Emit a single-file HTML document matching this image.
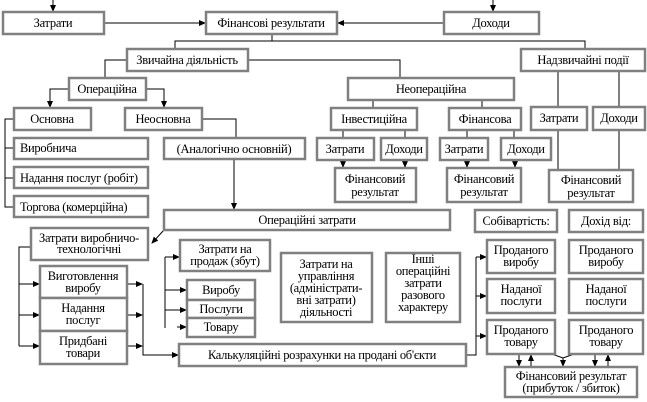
<!DOCTYPE html>
<html><head><meta charset="utf-8"><style>
html,body{margin:0;padding:0;background:#fff;}
svg{display:block;}
svg text{font-family:"Liberation Serif","Times New Roman","DejaVu Serif",serif;font-size:12.5px;fill:#000;letter-spacing:-0.3px;}
.b{fill:#fff;stroke:#808080;stroke-width:2.5;}
.l{stroke:#000;stroke-width:1;fill:none;}
</style></head><body>
<svg width="647" height="402" viewBox="0 0 647 402" xmlns="http://www.w3.org/2000/svg" font-family="Liberation Serif, Times New Roman, DejaVu Serif, serif">
<defs><marker id="a" markerWidth="7" markerHeight="6" refX="6" refY="3" orient="auto" markerUnits="userSpaceOnUse"><path d="M0,0 L7,3 L0,6 z" fill="#000"/></marker></defs>

<g class="l">
<path d="M53,0 V11" marker-end="url(#a)"/>
<path d="M493,0 V11" marker-end="url(#a)"/>
<path d="M105,23 H205" marker-end="url(#a)"/>
<path d="M443,23 H338" marker-end="url(#a)"/>
<path d="M272,35 V41 M175,49 V41 H585 V49"/>
<path d="M248,60 H400 V78"/>
<path d="M127,60 H105 V78"/>
<path d="M69,89 H50 V107" marker-end="url(#a)"/>
<path d="M146,89 H164 V107" marker-end="url(#a)"/>
<path d="M14,119 H5 V207 H14 M5,148 H14 M5,178 H14"/>
<path d="M202,119 H236 V138"/>
<path d="M234,160 V209" marker-end="url(#a)"/>
<path d="M164,230 L152,243" marker-end="url(#a)"/>
<path d="M373,100 V108 M482,100 V108"/>
<path d="M343,130 V138 M405,130 V138 M467,130 V138 M514,130 V138"/>
<path d="M343,160 V167" marker-end="url(#a)"/>
<path d="M405,160 V167" marker-end="url(#a)"/>
<path d="M467,160 V167" marker-end="url(#a)"/>
<path d="M515,160 V167" marker-end="url(#a)"/>
<path d="M558,71 V170 M619,71 V170"/>
<path d="M31,247 H19 V346"/>
<path d="M19,284 H39" marker-end="url(#a)"/>
<path d="M19,315 H39" marker-end="url(#a)"/>
<path d="M19,346 H39" marker-end="url(#a)"/>
<path d="M128,284 H142" marker-end="url(#a)"/>
<path d="M128,315 H142" marker-end="url(#a)"/>
<path d="M128,346 H142" marker-end="url(#a)"/>
<path d="M143,284 V355 H178" marker-end="url(#a)"/>
<path d="M165,257 V328"/>
<path d="M165,257 H179" marker-end="url(#a)"/>
<path d="M165,290 H186" marker-end="url(#a)"/>
<path d="M165,310 H186" marker-end="url(#a)"/>
<path d="M177,327 H186" marker-end="url(#a)"/>
<path d="M467,355 H476 V257"/>
<path d="M476,257 H486" marker-end="url(#a)"/>
<path d="M476,296 H486" marker-end="url(#a)"/>
<path d="M476,336 H486" marker-end="url(#a)"/>
<path d="M519,355 V366" marker-end="url(#a)"/>
<path d="M531,366 V355" marker-end="url(#a)"/>
<path d="M595,355 V366" marker-end="url(#a)"/>
<path d="M608,366 V355" marker-end="url(#a)"/>
<path d="M549,353 L563,358 L577,353 M563,358 V366" />
<path d="M563,360 V366" marker-end="url(#a)"/>
</g>

<g>
<rect class="b" x="3" y="12" width="101" height="22"/>
<rect class="b" x="206" y="12" width="131" height="22"/>
<rect class="b" x="444" y="12" width="95" height="22"/>
<rect class="b" x="127" y="49" width="121" height="22"/>
<rect class="b" x="521" y="49" width="124" height="22"/>
<rect class="b" x="69" y="78" width="77" height="22"/>
<rect class="b" x="348" y="78" width="166" height="22"/>
<rect class="b" x="14" y="108" width="77" height="22"/>
<rect class="b" x="125" y="108" width="77" height="22"/>
<rect class="b" x="331" y="108" width="86" height="22"/>
<rect class="b" x="449" y="108" width="72" height="22"/>
<rect class="b" x="531" y="107" width="56" height="23"/>
<rect class="b" x="593" y="107" width="52" height="23"/>
<rect class="b" x="14" y="138" width="134" height="21"/>
<rect class="b" x="164" y="138" width="141" height="21"/>
<rect class="b" x="317" y="138" width="57" height="22"/>
<rect class="b" x="381" y="138" width="46" height="22"/>
<rect class="b" x="440" y="138" width="48" height="22"/>
<rect class="b" x="501" y="138" width="50" height="22"/>
<rect class="b" x="14" y="167" width="134" height="21"/>
<rect class="b" x="335" y="168" width="81" height="34"/>
<rect class="b" x="447" y="168" width="74" height="34"/>
<rect class="b" x="549" y="170" width="84" height="32"/>
<rect class="b" x="14" y="196" width="134" height="21"/>
<rect class="b" x="164" y="210" width="286" height="20"/>
<rect class="b" x="475" y="210" width="82" height="22"/>
<rect class="b" x="569" y="210" width="74" height="22"/>
<rect class="b" x="31" y="228" width="117" height="32"/>
<rect class="b" x="180" y="240" width="90" height="31"/>
<rect class="b" x="487" y="240" width="68" height="33"/>
<rect class="b" x="569" y="240" width="74" height="33"/>
<rect class="b" x="281" y="253" width="91" height="69"/>
<rect class="b" x="386" y="253" width="74" height="69"/>
<rect class="b" x="40" y="266" width="87" height="32"/>
<rect class="b" x="187" y="280" width="68" height="20"/>
<rect class="b" x="487" y="279" width="68" height="34"/>
<rect class="b" x="569" y="279" width="74" height="34"/>
<rect class="b" x="40" y="298" width="87" height="33"/>
<rect class="b" x="187" y="300" width="68" height="18"/>
<rect class="b" x="187" y="318" width="68" height="19"/>
<rect class="b" x="487" y="320" width="68" height="34"/>
<rect class="b" x="569" y="320" width="74" height="34"/>
<rect class="b" x="40" y="331" width="87" height="33"/>
<rect class="b" x="179" y="344" width="287" height="22"/>
<rect class="b" x="505" y="367" width="132" height="30"/>
</g>

<g text-anchor="middle">
<text x="53" y="27">Затрати</text>
<text x="271" y="27">Фінансові результати</text>
<text x="491" y="27">Доходи</text>
<text x="187" y="64">Звичайна діяльність</text>
<text x="583" y="64">Надзвичайні події</text>
<text x="107" y="93">Операційна</text>
<text x="431" y="93">Неопераційна</text>
<text x="52" y="123">Основна</text>
<text x="163" y="123">Неосновна</text>
<text x="374" y="123">Інвестиційна</text>
<text x="485" y="123">Фінансова</text>
<text x="559" y="122">Затрати</text>
<text x="619" y="122">Доходи</text>
<text x="234" y="153">(Аналогічно основній)</text>
<text x="345" y="153">Затрати</text>
<text x="404" y="153">Доходи</text>
<text x="464" y="153">Затрати</text>
<text x="526" y="153">Доходи</text>
<text x="375" y="183">Фінансовий</text>
<text x="375" y="196">результат</text>
<text x="484" y="183">Фінансовий</text>
<text x="484" y="196">результат</text>
<text x="591" y="184">Фінансовий</text>
<text x="591" y="197">результат</text>
<text x="307" y="224">Операційні затрати</text>
<text x="516" y="225">Собівартість:</text>
<text x="606" y="225">Дохід від:</text>
<text x="89" y="242">Затрати виробничо-</text>
<text x="89" y="253">технологічні</text>
<text x="225" y="253">Затрати на</text>
<text x="225" y="265">продаж (збут)</text>
<text x="521" y="254">Проданого</text>
<text x="521" y="266">виробу</text>
<text x="606" y="254">Проданого</text>
<text x="606" y="266">виробу</text>
<text x="326" y="268">Затрати на</text>
<text x="326" y="280">управління</text>
<text x="326" y="292">(адміністрати-</text>
<text x="326" y="304">вні затрати)</text>
<text x="326" y="316">діяльності</text>
<text x="423" y="263">Інші</text>
<text x="423" y="275">операційні</text>
<text x="423" y="287">затрати</text>
<text x="423" y="299">разового</text>
<text x="423" y="311">характеру</text>
<text x="83" y="280">Виготовлення</text>
<text x="83" y="292">виробу</text>
<text x="221" y="294">Виробу</text>
<text x="521" y="293">Наданої</text>
<text x="521" y="305">послуги</text>
<text x="606" y="293">Наданої</text>
<text x="606" y="305">послуги</text>
<text x="83" y="312">Надання</text>
<text x="83" y="324">послуг</text>
<text x="221" y="313">Послуги</text>
<text x="221" y="331">Товару</text>
<text x="521" y="334">Проданого</text>
<text x="521" y="346">товару</text>
<text x="606" y="334">Проданого</text>
<text x="606" y="346">товару</text>
<text x="83" y="345">Придбані</text>
<text x="83" y="357">товари</text>
<text x="322" y="359">Калькуляційні розрахунки на продані об'єкти</text>
<text x="571" y="380">Фінансовий результат</text>
<text x="571" y="392">(прибуток / збиток)</text>
</g>
<g>
<text x="20" y="152">Виробнича</text>
<text x="20" y="182">Надання послуг (робіт)</text>
<text x="20" y="211">Торгова (комерційна)</text>
</g>
</svg>
</body></html>
